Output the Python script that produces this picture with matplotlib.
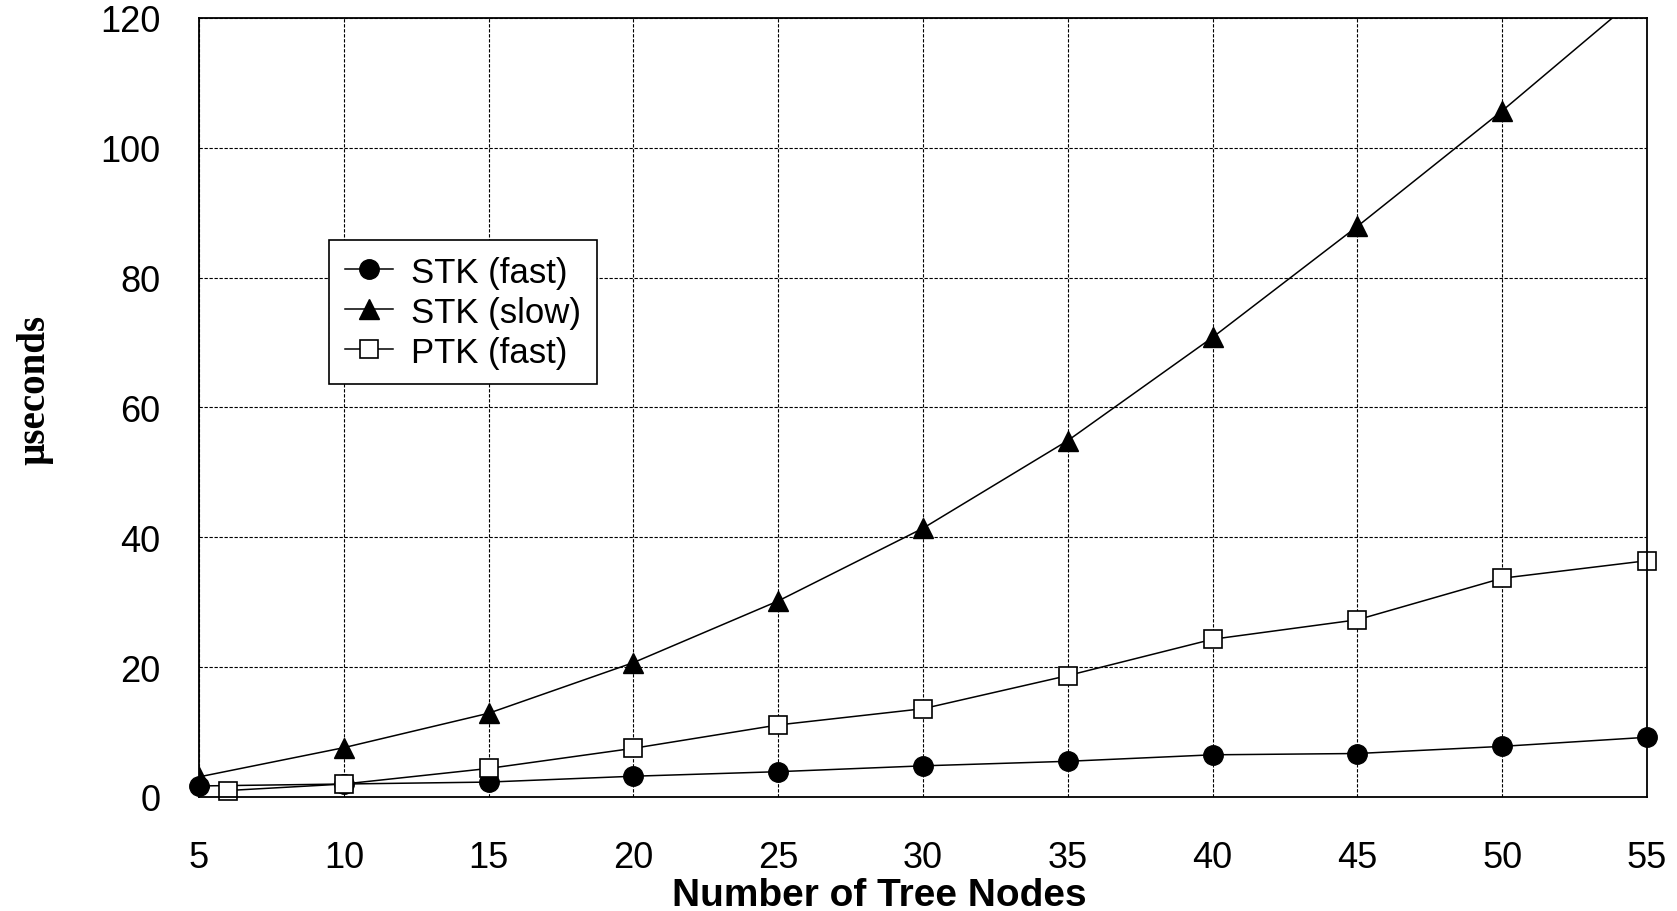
import matplotlib
matplotlib.use("Agg")
import matplotlib.pyplot as plt

# Measured timings (microseconds) versus tree size
nodes = [5, 10, 15, 20, 25, 30, 35, 40, 45, 50, 55]
stk_fast = [1.7, 2.0, 2.3, 3.2, 3.9, 4.8, 5.5, 6.5, 6.7, 7.8, 9.2]
stk_slow = [3.1, 7.6, 12.9, 20.7, 30.2, 41.4, 54.9, 70.8, 87.9, 105.7, 124.5]
ptk_nodes = [6, 10, 15, 20, 25, 30, 35, 40, 45, 50, 55]
ptk_fast = [1.0, 2.0, 4.4, 7.5, 11.1, 13.6, 18.7, 24.3, 27.3, 33.7, 36.4]

x_ticks = [5, 10, 15, 20, 25, 30, 35, 40, 45, 50, 55]
y_ticks = [0, 20, 40, 60, 80, 100, 120]

plt.rcParams["font.family"] = ["Liberation Sans", "DejaVu Sans"]

fig = plt.figure(figsize=(16.77, 9.12), dpi=100)
ax = fig.add_axes([0.1187, 0.125, 0.8634, 0.8542])

common = dict(color="black", linewidth=1.1, markeredgecolor="black")
ax.plot(nodes, stk_fast, marker="o", markersize=14, markerfacecolor="black",
        label="STK (fast)", **common)
line_slow, = ax.plot(nodes, stk_slow, marker="^", markersize=15,
                     markerfacecolor="black", label="STK (slow)", **common)
ax.plot(ptk_nodes, ptk_fast, marker="s", markersize=13, markerfacecolor="white",
        markeredgewidth=1.2, label="PTK (fast)", **common)

# let markers on the axis edges show in full; the steep curve stays clipped
for ln in ax.lines:
    if ln is not line_slow:
        ln.set_clip_on(False)

ax.set_xlim(5, 55)
ax.set_ylim(0, 120)
ax.set_xticks(x_ticks)
ax.set_yticks(y_ticks)
ax.tick_params(axis="both", length=0, labelsize=26)
ax.tick_params(axis="x", pad=31)
ax.tick_params(axis="y", pad=28)

ax.grid(True, color="black", linestyle=(0, (3, 1.5)), linewidth=0.8)
ax.set_axisbelow(True)
for sp in ax.spines.values():
    sp.set_linewidth(1.3)
    sp.set_color("black")

ax.set_xlabel("Number of Tree Nodes", fontsize=28, fontweight="bold")
ax.xaxis.label.set_verticalalignment("baseline")
ax.xaxis.set_label_coords(0.47, -0.1385)
ax.set_ylabel("µseconds", fontsize=28, fontweight="bold",
              family=["Liberation Serif", "DejaVu Serif"])
ax.yaxis.set_label_coords(-0.101, 0.524)

leg = ax.legend(loc="upper left", bbox_to_anchor=(0.0898, 0.715),
                borderaxespad=0, fontsize=25, fancybox=False, framealpha=1,
                edgecolor="black", handlelength=1.4, handletextpad=0.51,
                labelspacing=0.2, borderpad=0.45)
leg.get_frame().set_linewidth(1.2)

fig.savefig("out.png", dpi=100)
